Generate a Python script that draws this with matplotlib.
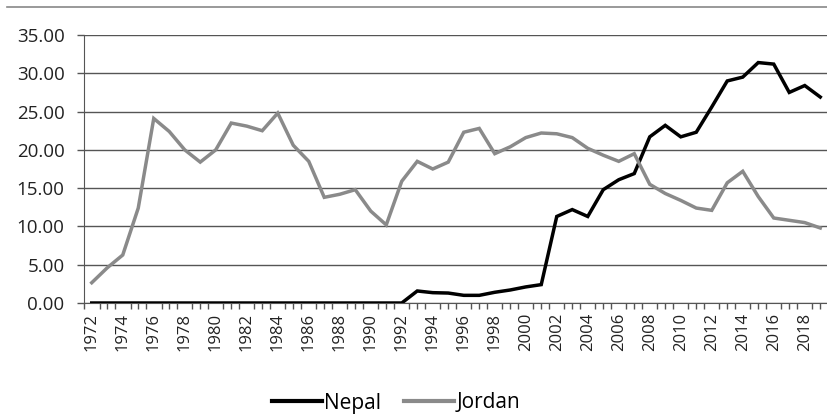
import matplotlib
matplotlib.use("Agg")
import matplotlib.pyplot as plt
from matplotlib.lines import Line2D
import numpy as np

years = list(range(1972, 2020))
nepal = [0]*21 + [1.57, 1.35, 1.3, 1.0, 1.0, 1.4, 1.7, 2.1, 2.4,
                  11.3, 12.2, 11.3, 14.8, 16.1, 16.9, 21.7, 23.2, 21.7, 22.3,
                  25.6, 29.0, 29.5, 31.4, 31.2, 27.5, 28.4, 26.9]
jordan = [2.65, 4.6, 6.27, 12.4, 24.1, 22.4, 20.0, 18.4, 20.0, 23.5,
          23.1, 22.5, 24.8, 20.6, 18.5, 13.8, 14.2, 14.8, 12.0, 10.2,
          15.9, 18.5, 17.5, 18.4, 22.3, 22.8, 19.5, 20.4, 21.6, 22.2,
          22.1, 21.6, 20.2, 19.3, 18.5, 19.5, 15.5, 14.3, 13.4, 12.4,
          12.1, 15.7, 17.2, 13.9, 11.1, 10.8, 10.5, 9.8]
yticks = [0, 5, 10, 15, 20, 25, 30, 35]

plt.rcParams['font.family'] = ['Open Sans', 'DejaVu Sans']

fig = plt.figure(figsize=(8.28, 4.17), dpi=100)
W, H = 828, 417
ax = fig.add_axes([84/W, (H-303)/H, 744/W, 268/H])

x = np.arange(len(years))
ax.plot(x, nepal, color='black', lw=2.5, label='Nepal', solid_joinstyle='miter', zorder=3)
ax.plot(x, jordan, color='#8a8a8a', lw=2.5, label='Jordan', solid_joinstyle='miter', zorder=3)

ax.set_xlim(-0.447, 47.08)
ax.set_ylim(0, 35)
ax.set_yticks(yticks)
ax.set_yticklabels([f"{v:.2f}" for v in yticks], fontsize=13.5, color='#222222')
ax.yaxis.grid(True, color='#555555', lw=1.0)
ax.set_axisbelow(True)
ax.tick_params(axis='y', length=5, width=1.0, color='#555555', pad=9)

ax.set_xticks(x[::2])
ax.set_xticklabels([str(y) for y in years[::2]], rotation=90, fontsize=12, color='#222222')
ax.set_xticks(np.arange(-0.5, 48, 0.5), minor=True)
ax.tick_params(axis='x', which='major', length=0, pad=7)
ax.tick_params(axis='x', which='minor', length=4, width=1.0, color='#555555')

for s in ['top', 'right']:
    ax.spines[s].set_visible(False)
ax.spines['left'].set_color('#555555')
ax.spines['bottom'].set_color('#555555')

fig.add_artist(Line2D([7/W, 1.0], [1-7/H, 1-7/H], color='#888888', lw=1.2))

leg = fig.legend(loc='center', bbox_to_anchor=(396/W, 1-403/H), ncol=2, frameon=False,
                 fontsize=15, handlelength=2.4, handletextpad=0.1, columnspacing=1.1)
for h in leg.get_lines():
    h.set_linewidth(3.0)

fig.savefig('out.png', dpi=100)
